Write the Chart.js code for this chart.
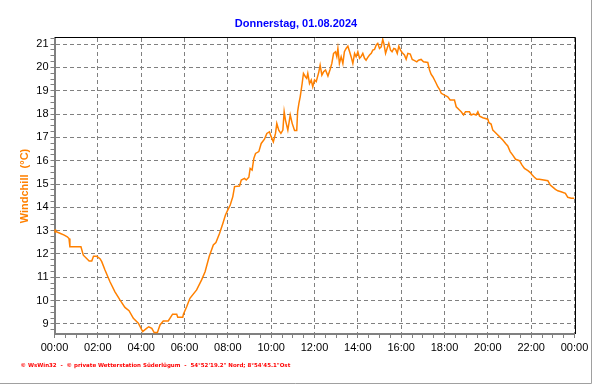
<!DOCTYPE html>
<html>
<head>
<meta charset="utf-8">
<script src="https://cdn.jsdelivr.net/npm/chart.js@4.4.1/dist/chart.umd.min.js"></script>
<style>
html,body{margin:0;padding:0;background:#fff;}
#wrap{width:592px;height:384px;position:relative;}
</style>
</head>
<body>
<div id="wrap"><canvas id="c"></canvas></div>
<script>
const titleText = 'Donnerstag, 01.08.2024';
const yAxisTitle = 'Windchill  (°C)';
const footerText = '© WsWin32  -  © private Wetterstation Süderlügum  -  54°52\'19.2" Nord; 8°54\'45.1"Ost';
const xTickLabels = ['00:00','02:00','04:00','06:00','08:00','10:00','12:00','14:00','16:00','18:00','20:00','22:00','00:00'];
const yTickValues = [9,10,11,12,13,14,15,16,17,18,19,20,21];

const hours = [
 0.00,0.25,0.45,0.59,0.67,0.71,1.22,1.33,1.60,1.72,1.80,1.95,2.10,2.18,2.33,2.56,2.79,3.02,3.25,3.44,
 3.64,3.87,4.07,4.25,4.35,4.49,4.60,4.75,4.87,5.02,5.25,5.45,5.64,5.69,5.92,5.95,6.10,6.25,6.56,6.79,
 6.95,7.14,7.33,7.45,7.62,7.77,7.89,8.00,8.11,8.23,8.31,8.54,8.62,8.77,8.85,8.97,9.03,9.12,9.20,9.28,
 9.43,9.54,9.69,9.80,9.92,10.00,10.10,10.20,10.26,10.35,10.45,10.54,10.60,10.66,10.77,10.88,10.97,11.08,11.18,11.22,
 11.28,11.34,11.43,11.49,11.58,11.64,11.69,11.77,11.85,11.92,12.00,12.08,12.20,12.26,12.34,12.42,12.51,12.62,12.72,12.80,
 12.88,12.97,13.03,13.08,13.15,13.23,13.31,13.38,13.46,13.54,13.62,13.69,13.77,13.85,13.92,14.00,14.08,14.15,14.23,14.31,
 14.38,14.46,14.54,14.62,14.69,14.77,14.85,14.92,15.00,15.08,15.15,15.20,15.28,15.35,15.43,15.51,15.58,15.66,15.74,15.82,
 15.89,15.97,16.05,16.15,16.23,16.31,16.42,16.51,16.62,16.72,16.80,16.92,17.03,17.23,17.31,17.38,17.46,17.54,17.62,17.69,
 17.77,17.85,18.00,18.15,18.26,18.46,18.54,18.69,18.77,18.88,18.97,19.15,19.23,19.34,19.46,19.54,19.62,19.77,20.00,20.05,
 20.15,20.23,20.31,20.46,20.57,20.69,20.82,20.92,21.03,21.15,21.28,21.46,21.58,21.69,21.85,21.96,22.05,22.15,22.26,22.38,
 22.77,22.88,22.97,23.12,23.23,23.38,23.58,23.69,23.85,24.00
];
const windchill = [
 12.99,12.89,12.81,12.74,12.66,12.31,12.31,11.95,11.70,11.70,11.90,11.90,11.80,11.67,11.31,10.81,10.38,10.03,9.71,9.57,
 9.24,9.03,8.67,8.81,8.88,8.81,8.63,8.63,8.96,9.13,9.13,9.42,9.42,9.29,9.29,9.42,9.74,10.10,10.46,10.89,
 11.24,11.89,12.39,12.49,12.89,13.31,13.67,13.89,14.10,14.46,14.89,14.91,15.17,15.24,15.17,15.29,15.67,15.60,16.10,16.31,
 16.39,16.74,16.92,17.17,17.24,17.03,16.81,17.17,17.60,17.31,17.17,17.31,18.10,17.74,17.31,17.96,17.60,17.29,17.29,18.10,
 18.46,18.74,19.31,19.74,19.60,19.53,19.74,19.31,19.46,19.17,19.46,19.39,19.81,20.10,19.67,19.81,19.89,19.63,19.91,20.17,
 20.60,20.67,20.46,20.81,20.17,20.46,20.17,20.67,20.81,20.91,20.67,20.46,20.17,20.60,20.46,20.67,20.39,20.46,20.60,20.39,
 20.31,20.43,20.53,20.60,20.74,20.77,20.96,21.03,20.81,20.88,21.20,21.03,20.60,20.81,21.03,20.74,20.67,20.81,20.78,20.60,
 20.91,20.74,20.63,20.53,20.35,20.60,20.57,20.34,20.29,20.24,20.31,20.34,20.24,20.21,19.89,19.71,19.60,19.46,19.31,19.17,
 19.06,18.89,18.81,18.74,18.60,18.60,18.31,18.17,18.10,17.96,18.10,18.10,17.96,18.00,17.96,18.10,17.91,17.84,17.78,17.63,
 17.57,17.31,17.24,17.10,17.00,16.89,16.74,16.63,16.39,16.24,16.06,16.00,15.81,15.67,15.57,15.49,15.39,15.29,15.20,15.20,
 15.14,14.96,14.89,14.77,14.71,14.67,14.60,14.43,14.39,14.39
];

const GRID = '#808080';

const decorPlugin = {
  id: 'decor',
  afterDraw(chart) {
    const {ctx, chartArea: a, width, height} = chart;
    ctx.save();
    ctx.strokeStyle = '#000000';
    ctx.lineWidth = 1;
    ctx.beginPath();
    ctx.moveTo(Math.round(a.left), Math.round(a.top) - 0.5);
    ctx.lineTo(Math.round(a.right) + 0.5, Math.round(a.top) - 0.5);
    ctx.lineTo(Math.round(a.right) + 0.5, Math.round(a.bottom));
    ctx.stroke();
    ctx.strokeStyle = '#a0a0a0';
    ctx.beginPath();
    ctx.moveTo(0, height - 0.5);
    ctx.lineTo(width - 0.5, height - 0.5);
    ctx.lineTo(width - 0.5, 0);
    ctx.stroke();
    let size = 7;
    ctx.font = 'bold ' + size + 'px "DejaVu Sans"';
    const w = ctx.measureText(footerText).width;
    size = size * 270 / w;
    ctx.font = 'bold ' + size.toFixed(2) + 'px "DejaVu Sans"';
    ctx.fillStyle = '#ff0000';
    ctx.textBaseline = 'alphabetic';
    ctx.textAlign = 'left';
    ctx.fillText(footerText, 20.5, 366.5);
    ctx.restore();
  }
};

new Chart(document.getElementById('c'), {
  type: 'line',
  data: {
    datasets: [{
      data: hours.map((h, i) => ({x: h, y: windchill[i]})),
      borderColor: '#FF8000',
      backgroundColor: '#FF8000',
      borderWidth: 1.5,
      tension: 0,
      fill: false,
      pointStyle: 'rect',
      pointRadius: (c) => c.dataIndex === 0 ? 2.5 : 0,
      pointBorderWidth: 0,
      pointBackgroundColor: '#FF8000'
    }]
  },
  options: {
    responsive: true,
    maintainAspectRatio: false,
    animation: false,
    events: [],
    layout: {padding: 0},
    plugins: {
      legend: {display: false},
      tooltip: {enabled: false},
      title: {
        display: true,
        text: titleText,
        color: '#0000FF',
        font: {family: '"Liberation Sans", Arial, sans-serif', size: 11, weight: 'bold', lineHeight: 1.2},
        padding: {top: 17, bottom: 7.8}
      }
    },
    scales: {
      x: {
        type: 'linear',
        min: 0,
        max: 24,
        afterBuildTicks: (s) => {
          const t = [];
          for (let i = 0; i <= 48; i++) t.push({value: i / 2});
          s.ticks = t;
        },
        afterFit: (s) => { s.height = 50; s.paddingRight = 17.5; },
        ticks: {
          autoSkip: false,
          maxRotation: 0,
          padding: 3,
          color: '#000000',
          font: {family: '"Liberation Sans", Arial, sans-serif', size: 11},
          callback: (v) => (v % 2 === 0) ? xTickLabels[v / 2] : ''
        },
        grid: {
          color: (c) => (c.tick && c.tick.value % 2 === 0) ? GRID : 'rgba(0,0,0,0)',
          tickColor: GRID,
          tickLength: 4,
          lineWidth: 1
        },
        border: {display: true, color: GRID, width: 2, dash: [4, 3]}
      },
      y: {
        type: 'linear',
        min: 8.57,
        max: 21.26,
        afterBuildTicks: (s) => {
          const t = [];
          for (let i = 35; i <= 85; i++) t.push({value: i / 4});
          s.ticks = t;
        },
        afterFit: (s) => { s.width = 54.5; },
        ticks: {
          autoSkip: false,
          padding: 2,
          color: '#000000',
          font: {family: '"Liberation Sans", Arial, sans-serif', size: 11},
          callback: (v) => yTickValues.includes(v) ? String(v) : ''
        },
        grid: {
          color: (c) => (c.tick && Number.isInteger(c.tick.value)) ? GRID : 'rgba(0,0,0,0)',
          tickColor: GRID,
          tickLength: 4,
          lineWidth: 1
        },
        border: {display: true, color: GRID, width: 2, dash: [4, 3]},
        title: {
          display: true,
          text: yAxisTitle,
          color: '#FF8000',
          font: {family: '"Liberation Sans", Arial, sans-serif', size: 11, weight: 'bold', lineHeight: 1.2},
          padding: {top: 18, bottom: 0}
        }
      }
    }
  },
  plugins: [decorPlugin]
});
</script>
</body>
</html>
